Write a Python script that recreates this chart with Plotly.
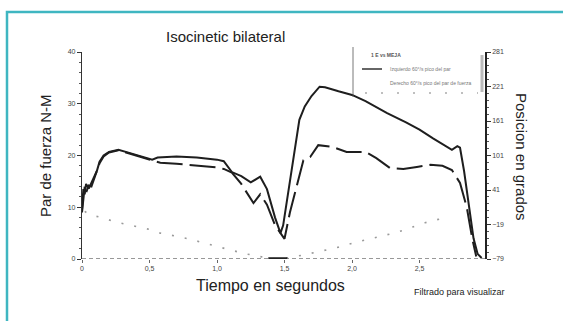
import plotly.graph_objects as go

# ---- data ----
t_solid = [0.0, 0.01, 0.02, 0.03, 0.05, 0.07, 0.09, 0.11, 0.13, 0.16, 0.2, 0.27, 0.35, 0.45, 0.52,
           0.56, 0.7, 0.85, 1.0, 1.05, 1.11, 1.18, 1.25, 1.32, 1.37, 1.43, 1.47, 1.49, 1.54, 1.58,
           1.61, 1.65, 1.7, 1.76, 1.8, 1.9, 2.0, 2.1, 2.26, 2.4, 2.5, 2.6, 2.7, 2.74, 2.78, 2.8,
           2.83, 2.87, 2.9, 2.93, 2.96]
v_solid = [9.5, 13.5, 12.5, 14.5, 13.6, 14.8, 15.8, 17.0, 18.8, 20.0, 20.7, 21.1, 20.5, 19.8, 19.2,
           19.6, 19.8, 19.6, 19.2, 18.9, 16.8, 16.0, 14.8, 15.9, 13.5, 8.0, 5.0, 6.5, 15.3, 22.0,
           26.9, 29.5, 31.5, 33.3, 33.2, 32.4, 31.7, 30.5, 28.2, 26.4, 25.0, 23.3, 21.8, 21.1, 21.8, 21.5,
           17.0, 9.0, 4.0, 1.0, 0.2]

t_dash = [0.0, 0.01, 0.02, 0.03, 0.05, 0.07, 0.09, 0.11, 0.13, 0.16, 0.2, 0.27, 0.35, 0.45, 0.52,
          0.58, 0.7, 0.85, 1.0, 1.05, 1.11, 1.18, 1.27, 1.32, 1.37, 1.43, 1.5, 1.54, 1.59, 1.64,
          1.69, 1.75, 1.85, 1.96, 2.1, 2.18, 2.28, 2.38, 2.48, 2.58, 2.67, 2.74, 2.8, 2.85, 2.89, 2.92]
v_dash = [9.0, 12.0, 14.0, 12.8, 14.2, 14.0, 15.5, 16.6, 18.5, 19.8, 20.6, 21.0, 20.4, 19.6, 19.0,
          18.6, 18.4, 18.0, 17.7, 17.4, 16.7, 14.5, 10.8, 12.5, 10.5, 6.5, 3.9, 9.0, 14.0, 19.1,
          19.7, 22.0, 21.7, 20.7, 20.7, 19.5, 17.6, 17.4, 17.8, 18.2, 18.0, 17.2, 14.7, 10.0, 4.0, 0.5]

t_pos = [0.02, 0.06, 0.15, 0.24, 0.52, 0.58, 0.7, 0.82, 0.93, 1.04, 1.11, 1.21, 1.26, 1.35, 1.45,
         1.55, 1.75, 1.9, 2.04, 2.2, 2.34, 2.45, 2.54, 2.63, 2.71]
deg_pos = [3.8, -2.5, -7.0, -14.2, -28.6, -34.0, -39.4, -45.7, -52.9, -60.1, -64.6, -70.0, -71.8, -76.3, -79.0,
           -76.3, -66.4, -58.3, -49.3, -40.3, -32.2, -23.2, -16.0, -10.6, -6.1]

x_ticks = [0, 0.5, 1.0, 1.5, 2.0, 2.5]
x_ticktext = ["0", "0,5", "1,0", "1,5", "2,0", "2,5"]
y_ticks = [0, 10, 20, 30, 40]
y2_ticks = [-79, -19, 41, 101, 161, 221, 281]

TICKFONT = dict(family="Liberation Sans Narrow, Liberation Sans, Arial", size=7, color="#444")
TXT = "Liberation Sans, Arial, sans-serif"
TEAL = "#3fb6c1"

fig = go.Figure()
fig.add_trace(go.Scatter(x=t_solid, y=v_solid, mode="lines", name="Izquierdo",
                         line=dict(color="#1e1e1e", width=2), showlegend=False))
fig.add_trace(go.Scatter(x=t_dash, y=v_dash, mode="lines", name="Derecho",
                         line=dict(color="#1e1e1e", width=2, dash="26px,7px"), showlegend=False))
fig.add_trace(go.Scatter(x=t_pos, y=deg_pos, mode="lines", name="Posición", yaxis="y2",
                         line=dict(color="#9a9a9a", width=1.6, dash="2px,11px"), showlegend=False))

# paper coordinate helpers (plot area px 82..485, 52..259)
def px(x):
    return (x - 82) / 403.0

def py(y):
    return (259 - y) / 207.0

shapes = [
    # teal frame
    dict(type="rect", xref="paper", yref="paper", x0=px(7), x1=px(600), y0=py(380), y1=py(12),
         line=dict(color=TEAL, width=2.5), layer="below"),
    # dashed baseline
    dict(type="line", xref="x", yref="y", x0=0, x1=2.985, y0=0, y1=0,
         line=dict(color="#777", width=1.3, dash="4px,3px")),
    dict(type="line", xref="x", yref="y", x0=1.38, x1=1.52, y0=0.1, y1=0.1,
         line=dict(color="#222", width=2.5)),
    # legend box left edge
    dict(type="line", xref="paper", yref="paper", x0=px(353), x1=px(353), y0=py(47), y1=py(97),
         line=dict(color="#555", width=0.8)),
    # legend samples
    dict(type="line", xref="paper", yref="paper", x0=px(362), x1=px(382), y0=py(69), y1=py(69),
         line=dict(color="#333", width=1.5)),
    dict(type="line", xref="paper", yref="paper", x0=px(365), x1=px(478), y0=py(93), y1=py(93),
         line=dict(color="#aaa", width=1.5, dash="2px,14px")),
    # gray bar along right axis top
    dict(type="line", xref="paper", yref="paper", x0=px(482), x1=px(482), y0=py(55), y1=py(92),
         line=dict(color="#bbb", width=3)),
]

annotations = [
    dict(text="Isocinetic bilateral", xref="paper", yref="paper", x=px(225), y=py(37),
         showarrow=False, font=dict(family=TXT, size=15, color="#222"), xanchor="center", yanchor="middle"),
    dict(text="Par de fuerza N-M", xref="paper", yref="paper", x=px(45), y=py(156),
         showarrow=False, textangle=-90, font=dict(family=TXT, size=15, color="#222"),
         xanchor="center", yanchor="middle"),
    dict(text="Posicion en grados", xref="paper", yref="paper", x=px(522), y=py(157),
         showarrow=False, textangle=90, font=dict(family=TXT, size=15, color="#222"),
         xanchor="center", yanchor="middle"),
    dict(text="Tiempo en segundos", xref="paper", yref="paper", x=px(270), y=py(285),
         showarrow=False, font=dict(family=TXT, size=16, color="#222"), xanchor="center", yanchor="middle"),
    dict(text="Filtrado para visualizar", xref="paper", yref="paper", x=px(459), y=py(292),
         showarrow=False, font=dict(family=TXT, size=9, color="#222"), xanchor="center", yanchor="middle"),
    # legend texts
    dict(text="<b>1 E vs MEJA</b>", xref="paper", yref="paper", x=px(386), y=py(55),
         showarrow=False, font=dict(family=TXT, size=5, color="#555"), xanchor="center", yanchor="middle"),
    dict(text="Izquierdo 60°/s pico del par", xref="paper", yref="paper", x=px(388), y=py(69),
         showarrow=False, font=dict(family=TXT, size=5, color="#777"), xanchor="left", yanchor="middle"),
    dict(text="Derecho 60°/s pico del par de fuerza", xref="paper", yref="paper", x=px(388), y=py(83),
         showarrow=False, font=dict(family=TXT, size=5, color="#777"), xanchor="left", yanchor="middle"),
]

fig.update_layout(
    width=563, height=321,
    margin=dict(l=82, r=78, t=52, b=62),
    paper_bgcolor="white", plot_bgcolor="white",
    shapes=shapes, annotations=annotations,
    xaxis=dict(range=[0, 2.985], tickvals=x_ticks, ticktext=x_ticktext, tickfont=TICKFONT,
               showgrid=False, zeroline=False, showline=False, ticks="outside", ticklen=3,
               tickcolor="#666"),
    yaxis=dict(range=[0, 40], tickvals=y_ticks, tickfont=TICKFONT, showgrid=False, zeroline=False,
               showline=True, linecolor="#333", linewidth=1.2, ticks="outside", ticklen=4,
               tickcolor="#333", minor=dict(dtick=2, ticks="outside", ticklen=2, tickcolor="#555")),
    yaxis2=dict(range=[-79, 281], tickvals=y2_ticks, tickfont=TICKFONT, overlaying="y", side="right",
                showgrid=False, zeroline=False, showline=True, linecolor="#222", linewidth=1.5,
                ticks="outside", ticklen=4, tickcolor="#333",
                minor=dict(tick0=-79, dtick=12, ticks="outside", ticklen=2, tickcolor="#555")),
)

fig.write_html("out.html", config={"displayModeBar": False},
               post_script="document.body.style.margin='0';document.body.style.overflow='hidden';")
